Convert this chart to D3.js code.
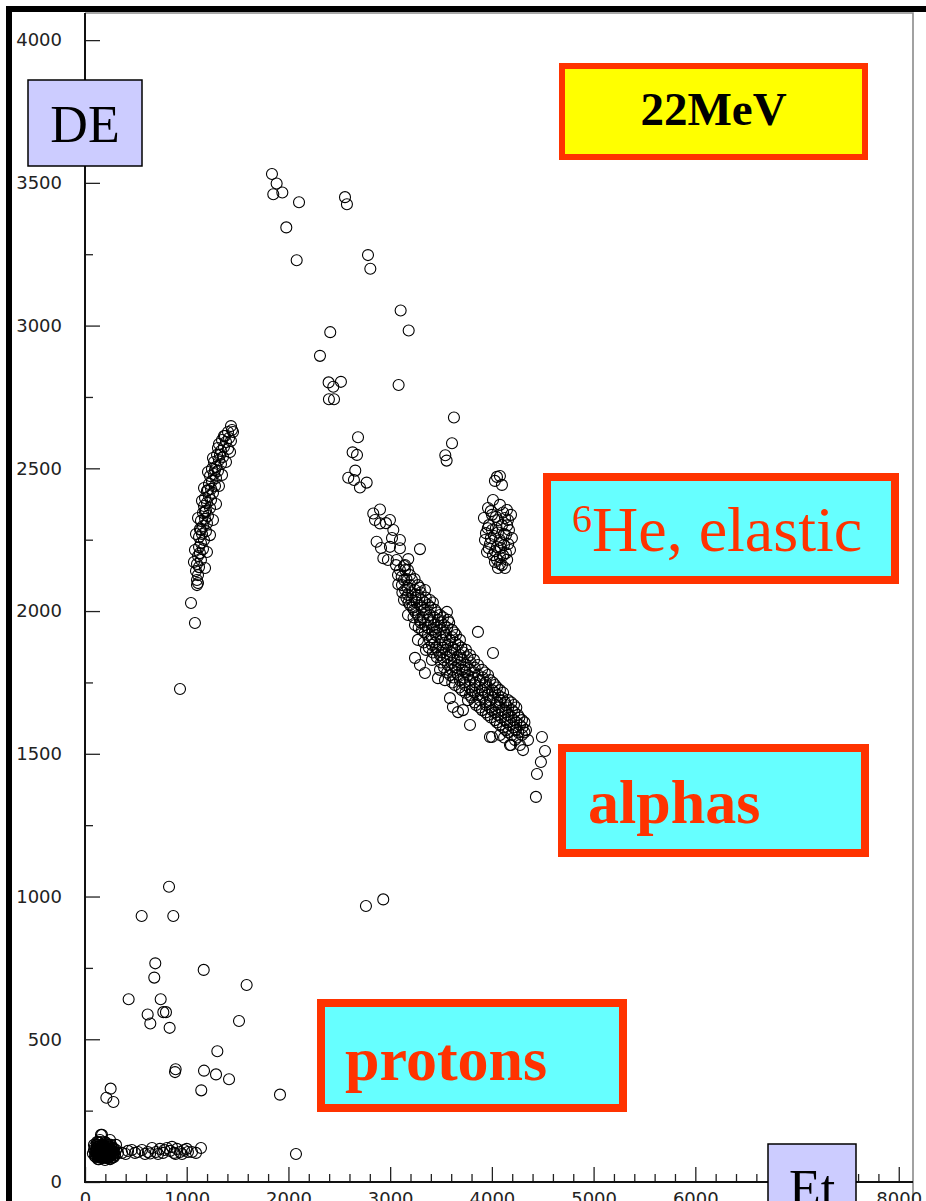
<!DOCTYPE html>
<html>
<head>
<meta charset="utf-8">
<script src="https://cdn.jsdelivr.net/npm/d3@7"></script>
<style>
  html, body { margin: 0; padding: 0; background: #fff; }
  svg { display: block; }
</style>
</head>
<body>
<svg id="chart" width="926" height="1201"></svg>
<script>
// tick values
const xMajor = [0, 1000, 2000, 3000, 4000, 5000, 6000, 7000, 8000];
const xMinor = [200, 400, 600, 800, 1200, 1400, 1600, 1800, 2200, 2400, 2600, 2800,
  3200, 3400, 3600, 3800, 4200, 4400, 4600, 4800, 5200, 5400, 5600, 5800,
  6200, 6400, 6600, 6800, 7200, 7400, 7600, 7800];
const yMajor = [0, 500, 1000, 1500, 2000, 2500, 3000, 3500, 4000];
const yMinor = [250, 750, 1250, 1750, 2250, 2750, 3250, 3750];
const hiddenXLabel = 7000; // sits under the Et box

// [Et, DE] events
const protonLine = [
  [98, 105], [128, 119], [147, 95], [167, 112], [187, 126], [206, 102], [226, 116], [246, 91],
  [265, 109], [138, 137], [177, 84], [216, 133], [256, 126], [285, 102], [118, 91], [197, 77],
  [236, 105], [157, 123], [275, 88], [108, 116], [187, 98], [226, 84], [147, 147], [206, 137],
  [265, 119], [305, 112], [167, 165], [246, 147], [88, 112], [324, 102],
  [78, 100], [88, 130], [118, 140], [128, 95], [138, 80], [157, 100], [177, 130], [197, 110],
  [216, 95], [236, 125], [256, 100], [275, 120], [295, 95], [305, 130], [108, 88], [128, 140],
  [167, 88], [187, 112], [206, 120], [226, 100], [246, 110], [265, 84], [285, 116], [147, 105],
  [98, 125], [118, 109], [138, 116], [157, 91], [177, 105], [197, 140], [216, 116], [236, 88],
  [256, 112], [275, 98], [157, 140], [128, 80], [246, 80], [206, 84], [118, 122], [138, 98],
  [187, 88], [226, 130], [167, 130], [285, 88], [98, 90], [197, 95],
  [118, 95], [128, 102], [138, 109], [147, 116], [157, 109], [167, 102], [177, 95], [187, 105],
  [197, 116], [206, 109], [216, 102], [226, 109], [236, 116], [246, 102], [256, 95], [265, 102],
  [147, 88], [167, 123], [187, 119], [206, 91], [226, 123], [246, 119], [128, 123], [108, 105],
  [275, 109], [138, 88], [177, 116], [216, 88], [157, 84], [197, 88], [236, 98], [118, 130],
  [256, 130],
  [364, 102], [423, 109], [492, 102], [560, 112], [619, 105], [659, 119], [698, 105], [737, 116],
  [767, 102], [806, 119], [836, 109], [875, 102], [904, 116], [934, 105], [973, 112], [1012, 105],
  [1052, 105], [1091, 102], [1140, 119], [2074, 98], [521, 105], [590, 98], [718, 98], [855, 123],
  [954, 98], [400, 98], [460, 112], [640, 100], [780, 112], [890, 98], [1000, 116]
];
const protonScatter = [
  [826, 1034], [557, 932], [868, 932], [691, 766], [681, 716], [1167, 743], [1589, 690],
  [429, 640], [744, 640], [616, 587], [770, 595], [796, 595], [642, 555], [832, 540],
  [1514, 564], [1301, 458], [891, 395], [885, 385], [1170, 390], [1288, 377], [1416, 360],
  [1143, 321], [1917, 306], [252, 327], [210, 295], [279, 280], [157, 165],
  [2762, 967], [2932, 990]
];
const steepBand = [
  [1435, 2648], [1406, 2627], [1376, 2613], [1416, 2606], [1347, 2599], [1386, 2592], [1435, 2596],
  [1317, 2585], [1366, 2575], [1406, 2568], [1337, 2561], [1298, 2547], [1357, 2540], [1317, 2529],
  [1268, 2522], [1337, 2515], [1288, 2505], [1248, 2498], [1307, 2491], [1268, 2480], [1229, 2473],
  [1288, 2466], [1248, 2456], [1219, 2445], [1278, 2438], [1239, 2428], [1199, 2421], [1258, 2414],
  [1219, 2403], [1180, 2396], [1239, 2389], [1199, 2379], [1170, 2368], [1229, 2361], [1189, 2351],
  [1160, 2344], [1209, 2333], [1180, 2323], [1140, 2316], [1199, 2308], [1160, 2298], [1130, 2287],
  [1189, 2280], [1150, 2270], [1121, 2259], [1170, 2249], [1140, 2238], [1121, 2224], [1160, 2217],
  [1130, 2203], [1111, 2193], [1140, 2179], [1101, 2165], [1121, 2154], [1091, 2140], [1111, 2126],
  [1101, 2109], [1111, 2098], [1101, 2091], [1042, 2028], [1081, 1958], [934, 1727],
  [1455, 2627], [1307, 2571], [1426, 2557], [1258, 2536], [1386, 2522], [1209, 2487], [1347, 2477],
  [1170, 2431], [1317, 2438], [1150, 2386], [1288, 2375], [1111, 2326], [1258, 2319], [1091, 2270],
  [1229, 2266], [1081, 2214], [1199, 2207], [1071, 2172], [1180, 2151], [1445, 2634], [1366, 2613],
  [1327, 2547], [1278, 2494], [1209, 2424], [1180, 2347], [1140, 2284]
];
const highScatter = [
  [1838, 3531], [1884, 3498], [1851, 3460], [1940, 3466], [2104, 3432], [1979, 3344], [2081, 3229],
  [2556, 3450], [2575, 3425], [2782, 3247], [2805, 3199], [3103, 3053], [3182, 2983], [2411, 2977],
  [2310, 2894], [3083, 2792], [2395, 2801], [2516, 2803], [2441, 2786], [2398, 2742], [2448, 2742],
  [3627, 2678], [3608, 2588], [3542, 2546], [3555, 2527], [2684, 2609], [2631, 2556], [2674, 2547],
  [2657, 2492], [2588, 2467], [2644, 2459], [2703, 2433], [2769, 2450]
];
const helium6 = [
  [4050, 2470], [4079, 2473], [4099, 2442], [4030, 2456], [3962, 2361], [4011, 2389], [4079, 2372],
  [4148, 2354], [3922, 2326], [4001, 2337], [4060, 2319], [4129, 2326], [4188, 2337], [3971, 2301],
  [4040, 2291], [4099, 2301], [4168, 2284], [3942, 2273], [4020, 2263], [4079, 2249], [4138, 2266],
  [4197, 2256], [3981, 2235], [4050, 2224], [4119, 2231], [4178, 2214], [3952, 2207], [4011, 2196],
  [4079, 2189], [4138, 2203], [4030, 2172], [4099, 2161], [4060, 2151], [4129, 2151], [3932, 2249],
  [4158, 2319], [4001, 2284], [4089, 2221],
  [3990, 2350], [4040, 2330], [4110, 2345], [4150, 2300], [3960, 2290], [4060, 2275], [4120, 2270],
  [3990, 2255], [4090, 2240], [4160, 2235], [3970, 2220], [4030, 2210], [4110, 2195], [4050, 2180],
  [4150, 2180], [4080, 2165]
];
const alphas = [
  [2834, 2342], [2900, 2356], [2851, 2319], [2900, 2307], [2998, 2319], [3031, 2284], [2867, 2243],
  [2933, 2185], [2998, 2225], [3096, 2220], [3293, 2217], [3064, 2179], [3178, 2182], [3080, 2094],
  [3146, 2144], [3113, 2120], [2959, 2308], [3018, 2256], [2910, 2221], [3096, 2249], [2978, 2179],
  [3136, 2158],
  [3057, 2161], [3146, 2161], [3096, 2144], [3175, 2144], [3077, 2126], [3195, 2126], [3136, 2109],
  [3214, 2109], [3116, 2091], [3195, 2091], [3273, 2091], [3146, 2074], [3244, 2074], [3342, 2074],
  [3175, 2056], [3273, 2056], [3136, 2039], [3214, 2039], [3313, 2039], [3391, 2039],
  [3195, 2021], [3293, 2021], [3372, 2021], [3234, 2004], [3332, 2004], [3441, 2004],
  [3175, 1986], [3273, 1986], [3391, 1986], [3490, 1986], [3293, 1969], [3372, 1969], [3470, 1969],
  [3568, 1969], [3244, 1951], [3342, 1951], [3431, 1951], [3529, 1951],
  [3313, 1934], [3411, 1934], [3490, 1934], [3608, 1934], [3372, 1916], [3450, 1916], [3549, 1916],
  [3647, 1916], [3273, 1899], [3391, 1899], [3509, 1899], [3588, 1899], [3686, 1899],
  [3411, 1881], [3490, 1881], [3568, 1881], [3667, 1881], [3352, 1864], [3470, 1864], [3549, 1864],
  [3637, 1864], [3745, 1864], [3490, 1846], [3588, 1846], [3686, 1846], [3785, 1846],
  [3411, 1829], [3529, 1829], [3627, 1829], [3706, 1829], [3824, 1829], [3568, 1811], [3667, 1811],
  [3745, 1811], [3863, 1811], [3490, 1794], [3608, 1794], [3706, 1794], [3785, 1794], [3903, 1794],
  [3588, 1776], [3667, 1776], [3765, 1776], [3863, 1776], [3962, 1776],
  [3539, 1758], [3686, 1758], [3785, 1758], [3883, 1758], [3981, 1758],
  [3637, 1741], [3735, 1741], [3834, 1741], [3932, 1741], [4030, 1741],
  [3706, 1723], [3804, 1723], [3903, 1723], [4001, 1723], [4079, 1723],
  [3785, 1706], [3863, 1706], [3962, 1706], [4060, 1706],
  [3765, 1688], [3883, 1688], [3981, 1688], [4079, 1688], [4158, 1688],
  [3844, 1671], [3942, 1671], [4040, 1671], [4138, 1671], [4217, 1671],
  [3903, 1653], [4001, 1653], [4099, 1653], [4197, 1653], [3962, 1636], [4060, 1636], [4158, 1636],
  [4256, 1636], [4030, 1618], [4129, 1618], [4217, 1618], [4296, 1618], [4079, 1601], [4178, 1601],
  [4276, 1601], [4138, 1583], [4237, 1583], [4335, 1583], [4197, 1566], [4296, 1566], [4227, 1548],
  [4355, 1548], [4188, 1531], [4276, 1531],
  [3588, 1695], [3667, 1646], [3785, 1601], [3981, 1559], [4079, 1566],
  [3863, 1927], [4011, 1853], [3244, 1836], [3558, 1997], [3342, 1783], [3293, 1811], [3470, 1765],
  [3617, 1664], [3716, 1653], [4001, 1559], [4178, 1531], [4306, 1513],
  [4492, 1559], [4522, 1510], [4482, 1471], [4443, 1429], [4433, 1349],
  [3160, 2112], [3240, 2112], [3170, 2082], [3290, 2082], [3120, 2065], [3210, 2065], [3300, 2065],
  [3160, 2047], [3250, 2047], [3350, 2047], [3180, 2030], [3260, 2030], [3340, 2030], [3420, 2030],
  [3220, 2012], [3310, 2012], [3400, 2012], [3250, 1995], [3350, 1995], [3460, 1995],
  [3230, 1978], [3320, 1978], [3430, 1978], [3520, 1978], [3300, 1960], [3400, 1960], [3500, 1960],
  [3580, 1960], [3280, 1942], [3370, 1942], [3460, 1942], [3560, 1942], [3340, 1925], [3440, 1925],
  [3530, 1925], [3630, 1925], [3410, 1908], [3500, 1908], [3610, 1908], [3330, 1890], [3440, 1890],
  [3540, 1890], [3640, 1890], [3380, 1872], [3450, 1872], [3520, 1872], [3610, 1872], [3700, 1872],
  [3420, 1855], [3510, 1855], [3600, 1855], [3720, 1855], [3460, 1838], [3560, 1838], [3660, 1838],
  [3760, 1838], [3500, 1820], [3600, 1820], [3690, 1820], [3790, 1820], [3530, 1802], [3640, 1802],
  [3730, 1802], [3830, 1802], [3560, 1785], [3650, 1785], [3740, 1785], [3830, 1785], [3930, 1785],
  [3620, 1767], [3720, 1767], [3810, 1767], [3910, 1767], [3610, 1750], [3730, 1750], [3840, 1750],
  [3940, 1750], [4010, 1750], [3680, 1732], [3780, 1732], [3880, 1732], [3960, 1732], [4050, 1732],
  [3740, 1714], [3830, 1714], [3930, 1714], [4030, 1714], [4110, 1714], [3800, 1697], [3910, 1697],
  [4010, 1697], [4100, 1697], [3830, 1680], [3940, 1680], [4050, 1680], [4130, 1680], [4190, 1680],
  [3880, 1662], [3980, 1662], [4070, 1662], [4160, 1662], [4240, 1662], [3940, 1645], [4030, 1645],
  [4130, 1645], [4220, 1645], [3990, 1627], [4090, 1627], [4190, 1627], [4270, 1627], [4050, 1610],
  [4150, 1610], [4240, 1610], [4320, 1610], [4110, 1592], [4210, 1592], [4300, 1592], [4160, 1575],
  [4260, 1575], [4320, 1575], [4120, 1557], [4250, 1557]
];
const groups = [protonLine, protonScatter, steepBand, highScatter, helium6, alphas];

const svg = d3.select('#chart');
const plotLeft = 85, plotRight = 913, plotTop = 13, plotBottom = 1182;

const x = d3.scaleLinear().domain([0, 8140]).range([plotLeft, plotRight]);
const y = d3.scaleLinear().domain([0, 4095]).range([plotBottom, plotTop]);
const fmt = d3.format('d');

svg.append('rect').attr('width', 926).attr('height', 1201).attr('fill', '#fff');

// outer heavy frame
svg.append('rect')
  .attr('x', 9).attr('y', 9).attr('width', 1000).attr('height', 1400)
  .attr('fill', 'none').attr('stroke', '#000').attr('stroke-width', 6);

// frame: top and right in grey
svg.append('path')
  .attr('d', `M${plotLeft},${plotTop}H${plotRight}V${plotBottom + 20}`)
  .attr('fill', 'none').attr('stroke', '#8a8a8a').attr('stroke-width', 1.6);

function styleAxis(g) {
  g.select('.domain').remove();
  g.selectAll('line').attr('stroke', '#222').attr('stroke-width', 1.3);
  g.selectAll('text')
    .attr('font-family', '"DejaVu Sans", sans-serif')
    .attr('font-size', 18)
    .attr('fill', '#222');
}

svg.append('g')
  .attr('transform', `translate(${plotLeft},0)`)
  .call(d3.axisLeft(y).tickValues(yMajor).tickFormat(fmt)
    .tickSizeInner(-15).tickSizeOuter(0).tickPadding(23))
  .call(styleAxis);
svg.append('g')
  .attr('transform', `translate(${plotLeft},0)`)
  .call(d3.axisLeft(y).tickValues(yMinor).tickSizeInner(-8).tickSizeOuter(0).tickFormat(''))
  .call(styleAxis);

svg.append('g')
  .attr('transform', `translate(0,${plotBottom})`)
  .call(d3.axisBottom(x).tickValues(xMajor)
    .tickFormat(d => d === hiddenXLabel ? '' : fmt(d))
    .tickSizeInner(-15).tickSizeOuter(0).tickPadding(10))
  .call(styleAxis);
svg.append('g')
  .attr('transform', `translate(0,${plotBottom})`)
  .call(d3.axisBottom(x).tickValues(xMinor).tickSizeInner(-8).tickSizeOuter(0).tickFormat(''))
  .call(styleAxis);

// axis lines
svg.append('line')
  .attr('x1', plotLeft).attr('x2', plotLeft).attr('y1', plotTop).attr('y2', plotBottom + 1)
  .attr('stroke', '#111').attr('stroke-width', 2);
svg.append('line')
  .attr('x1', plotLeft - 1).attr('x2', plotRight).attr('y1', plotBottom).attr('y2', plotBottom)
  .attr('stroke', '#111').attr('stroke-width', 2);

// events
svg.append('g')
  .selectAll('circle')
  .data(groups.flat())
  .join('circle')
  .attr('cx', d => x(d[0]))
  .attr('cy', d => y(d[1]))
  .attr('r', 5.5)
  .attr('fill', 'none')
  .attr('stroke', '#000')
  .attr('stroke-width', 1.1);

// axis title boxes
function titleBox(bx, by, bw, bh, label, tx, ty) {
  svg.append('rect')
    .attr('x', bx).attr('y', by).attr('width', bw).attr('height', bh)
    .attr('fill', '#ccccff').attr('stroke', '#000').attr('stroke-width', 1.5);
  svg.append('text')
    .attr('x', tx).attr('y', ty)
    .attr('text-anchor', 'middle')
    .attr('font-family', '"Liberation Serif", "Times New Roman", serif')
    .attr('font-size', 52)
    .attr('fill', '#000')
    .text(label);
}
titleBox(28, 80, 114, 86, 'DE', 85, 142);
titleBox(768, 1144, 88, 100, 'Et', 812, 1206);

// particle labels
function labelBox(bx, by, bw, bh, sw, fill) {
  svg.append('rect')
    .attr('x', bx + sw / 2).attr('y', by + sw / 2)
    .attr('width', bw - sw).attr('height', bh - sw)
    .attr('fill', fill).attr('stroke', '#ff3300').attr('stroke-width', sw);
}
const serif = '"Liberation Serif", "Times New Roman", serif';

labelBox(559, 63, 309, 97, 6, '#ffff00');
svg.append('text')
  .attr('x', 713.5).attr('y', 125).attr('text-anchor', 'middle')
  .attr('font-family', serif).attr('font-size', 47).attr('font-weight', 'bold')
  .attr('fill', '#000').text('22MeV');

labelBox(543, 473, 356, 111, 8, '#66ffff');
const he = svg.append('text')
  .attr('x', 572).attr('y', 551)
  .attr('font-family', serif).attr('fill', '#ff3300');
he.append('tspan').attr('font-size', 40).attr('dy', -19).text('6');
he.append('tspan').attr('font-size', 64).attr('dy', 19).text('He, elastic');

labelBox(558, 744, 311, 113, 8, '#66ffff');
svg.append('text')
  .attr('x', 588).attr('y', 823)
  .attr('font-family', serif).attr('font-size', 62).attr('font-weight', 'bold')
  .attr('fill', '#ff3300').text('alphas');

labelBox(317, 999, 310, 113, 8, '#66ffff');
svg.append('text')
  .attr('x', 345).attr('y', 1080)
  .attr('font-family', serif).attr('font-size', 62).attr('font-weight', 'bold')
  .attr('fill', '#ff3300').text('protons');
</script>
</body>
</html>
